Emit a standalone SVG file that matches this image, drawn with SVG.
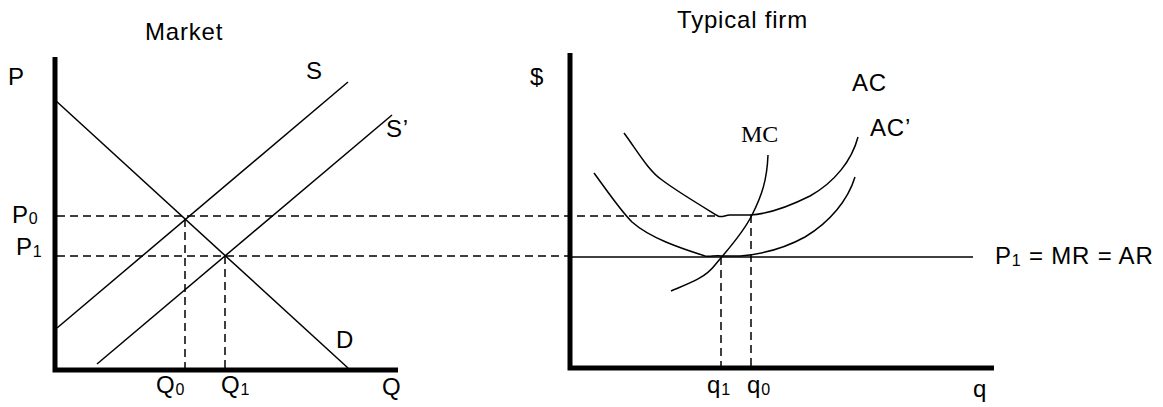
<svg xmlns="http://www.w3.org/2000/svg" width="1163" height="407" viewBox="0 0 1163 407">
<style>
text{font-family:"Liberation Sans",Arial,sans-serif;font-size:24px;letter-spacing:0.8px;fill:#000}
.serif{font-family:"Liberation Serif","Times New Roman",serif;letter-spacing:0}
.sub{font-size:16px}
.axis{stroke:#000;stroke-width:5;fill:none}
.ln{stroke:#000;stroke-width:1.5;fill:none}
.dash{stroke:#000;stroke-width:1.5;fill:none;stroke-dasharray:8 5}
</style>
<rect width="1163" height="407" fill="#fff"/>
<g id="market">
<text x="145" y="40">Market</text>
<path class="axis" d="M55 57 V370 H398"/>
<text x="8" y="85">P</text>
<text x="306" y="79">S</text>
<text x="386" y="137">S’</text>
<text x="336" y="348">D</text>
<text x="12" y="223">P<tspan class="sub" dy="1">0</tspan></text>
<text x="16" y="255">P<tspan class="sub" dy="2">1</tspan></text>
<text x="156" y="393">Q<tspan class="sub" dy="2">0</tspan></text>
<text x="221" y="393">Q<tspan class="sub" dy="2">1</tspan></text>
<text x="382" y="395">Q</text>
<line class="ln" x1="55" y1="100" x2="348" y2="368"/>
<line class="ln" x1="57" y1="328" x2="348" y2="82"/>
<line class="ln" x1="97" y1="364" x2="392" y2="115"/>
</g>
<g id="firm">
<text x="677" y="28">Typical firm</text>
<path class="axis" d="M570 53 V368 H994"/>
<text x="530" y="85">$</text>
<text class="serif" x="741" y="142">MC</text>
<text x="852" y="91">AC</text>
<text x="870" y="136">AC’</text>
<text x="995" y="264">P<tspan class="sub" dy="2">1</tspan><tspan dy="-2"> = MR = AR</tspan></text>
<text x="707" y="393">q<tspan class="sub" dy="2">1</tspan></text>
<text x="747" y="393">q<tspan class="sub" dy="2">0</tspan></text>
<text x="973" y="397">q</text>
<line class="ln" x1="570" y1="257" x2="973" y2="257"/>
<path class="ln" d="M624 133 C638 152 648 170 662 180 C678 192 700 205 718 216 C722 218 725 215 730 215 L750 215 C770 214 790 206 810 196 C835 182 852 160 858 137"/>
<path class="ln" d="M594 173 C608 192 620 210 632 222 C650 238 680 248 705 256 C710 257 715 255 722 256 L740 256 C765 254 785 248 805 237 C830 222 848 200 855 177"/>
<path class="ln" d="M671 291 C690 283 705 278 715 265 C728 249 742 235 752 215 C762 195 767 180 768 155"/>
</g>
<g id="connectors">
<line class="dash" x1="57" y1="216" x2="720" y2="216"/>
<line class="dash" x1="57" y1="256" x2="570" y2="256"/>
<line class="dash" x1="185" y1="219" x2="185" y2="368"/>
<line class="dash" x1="225" y1="256" x2="225" y2="368"/>
<line class="dash" x1="721" y1="257" x2="721" y2="366"/>
<line class="dash" x1="751" y1="215" x2="751" y2="366"/>
</g>
</svg>
